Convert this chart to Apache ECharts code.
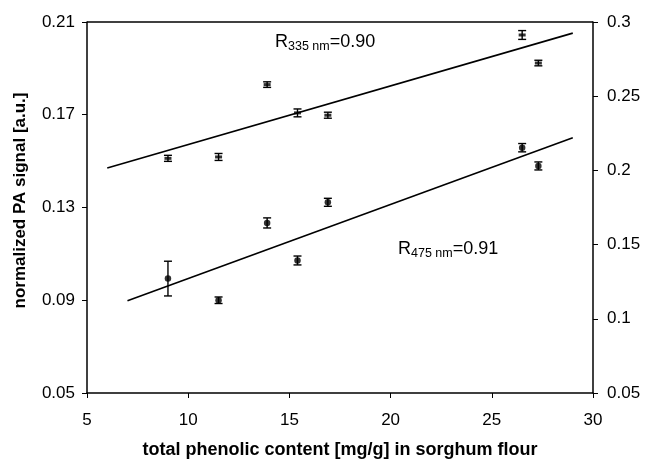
<!DOCTYPE html>
<html>
<head>
<meta charset="utf-8">
<script src="https://cdn.jsdelivr.net/npm/echarts@6/dist/echarts.min.js"></script>
<style>
  html, body { margin: 0; padding: 0; background: #fff; }
  #chart { width: 645px; height: 464px; }
</style>
</head>
<body>
<div id="chart"></div>
<script>
// phenolic content of the sorghum samples (mg/g)
const phenolic = [9.0, 11.5, 13.9, 15.4, 16.9, 26.5, 27.3];

// 335 nm signal (left axis) with error
const signal335 = [0.1512, 0.1518, 0.1830, 0.1708, 0.1698, 0.2044, 0.1923];
const err335 = [0.0013, 0.0015, 0.0012, 0.0017, 0.0013, 0.0019, 0.0012];

// 475 nm signal (right axis) with error
const signal475 = [0.1271, 0.1125, 0.1646, 0.1393, 0.1785, 0.2153, 0.2030];
const err475 = [0.0117, 0.0022, 0.0034, 0.0030, 0.0027, 0.0028, 0.0027];

// linear fits, two end points each
const fit335 = [[6, 0.1470], [29, 0.2052]];
const fit475 = [[7, 0.1121], [29, 0.2220]];

const xTicks = { min: 5, max: 30, interval: 5 };
const leftTicks = { min: 0.05, max: 0.21, interval: 0.04 };
const rightTicks = { min: 0.05, max: 0.3, interval: 0.05 };

const font = 'Liberation Sans, Arial, sans-serif';

const toPoints = (ys, errs) => phenolic.map((x, i) => [x, ys[i], errs[i]]);

// vertical error bar with caps
const errorBar = (params, api) => {
  const x = api.value(0), y = api.value(1), e = api.value(2);
  const top = api.coord([x, y + e]);
  const bot = api.coord([x, y - e]);
  const half = 4;
  const style = { stroke: '#000', lineWidth: 1.4 };
  return {
    type: 'group',
    children: [
      { type: 'line', shape: { x1: top[0], y1: top[1], x2: bot[0], y2: bot[1] }, style },
      { type: 'line', shape: { x1: top[0] - half, y1: top[1], x2: top[0] + half, y2: top[1] }, style },
      { type: 'line', shape: { x1: bot[0] - half, y1: bot[1], x2: bot[0] + half, y2: bot[1] }, style },
    ],
  };
};

const rLabel = {
  r: { fontSize: 18, fontFamily: font, fill: '#000' },
  s: { fontSize: 12.5, fontFamily: font, fill: '#000', padding: [9, 0, 0, 0] },
};

const chart = echarts.init(document.getElementById('chart'));

chart.setOption({
  animation: false,
  textStyle: { fontFamily: font },
  grid: { left: 87, right: 52, top: 22, bottom: 69 },
  xAxis: {
    type: 'value',
    ...xTicks,
    name: 'total phenolic content [mg/g] in sorghum flour',
    nameLocation: 'middle',
    nameGap: 48,
    nameTextStyle: { fontSize: 18, fontWeight: 'bold', color: '#000', fontFamily: font },
    axisLine: { onZero: false, lineStyle: { color: '#000', width: 1.5 } },
    axisTick: { show: true, length: 5, lineStyle: { color: '#000' } },
    axisLabel: { fontSize: 17, color: '#000', margin: 19, fontFamily: font },
    splitLine: { show: false },
  },
  yAxis: [
    {
      type: 'value',
      ...leftTicks,
      position: 'left',
      name: 'normalized PA signal [a.u.]',
      nameLocation: 'middle',
      nameGap: 58,
      nameTextStyle: { fontSize: 17, fontWeight: 'bold', color: '#000', fontFamily: font,
        padding: [0, 0, 0, 14] },
      axisLine: { show: true, lineStyle: { color: '#000', width: 1.5 } },
      axisTick: { show: true, length: 5, lineStyle: { color: '#000' } },
      axisLabel: { fontSize: 17, color: '#000', margin: 12, fontFamily: font,
        formatter: v => v.toFixed(2) },
      splitLine: { show: false },
    },
    {
      type: 'value',
      ...rightTicks,
      position: 'right',
      axisLine: { show: true, lineStyle: { color: '#000', width: 1.5 } },
      axisTick: { show: true, length: 5, lineStyle: { color: '#000' } },
      axisLabel: { fontSize: 17, color: '#000', margin: 14, fontFamily: font },
      splitLine: { show: false },
    },
  ],
  graphic: [
    // top frame line
    {
      type: 'line',
      shape: { x1: 87, y1: 22, x2: 593, y2: 22 },
      style: { stroke: '#000', lineWidth: 1.5 },
    },
    {
      type: 'text', left: 275, top: 33,
      style: { text: '{r|R}{s|335 nm}{r|=0.90}', rich: rLabel },
    },
    {
      type: 'text', left: 398, top: 240,
      style: { text: '{r|R}{s|475 nm}{r|=0.91}', rich: rLabel },
    },
  ],
  series: [
    {
      name: 'fit 335',
      type: 'line',
      data: fit335,
      yAxisIndex: 0,
      symbol: 'none',
      lineStyle: { color: '#000', width: 1.6 },
    },
    {
      name: 'fit 475',
      type: 'line',
      data: fit475,
      yAxisIndex: 1,
      symbol: 'none',
      lineStyle: { color: '#000', width: 1.6 },
    },
    {
      name: 'err 335',
      type: 'custom',
      yAxisIndex: 0,
      data: toPoints(signal335, err335),
      renderItem: errorBar,
      z: 3,
    },
    {
      name: 'err 475',
      type: 'custom',
      yAxisIndex: 1,
      data: toPoints(signal475, err475),
      renderItem: errorBar,
      z: 3,
    },
    {
      name: '335 nm',
      type: 'scatter',
      yAxisIndex: 0,
      data: toPoints(signal335, err335),
      symbol: 'rect',
      symbolSize: [7, 3],
      itemStyle: { color: '#000' },
      z: 4,
    },
    {
      name: '475 nm',
      type: 'scatter',
      yAxisIndex: 1,
      data: toPoints(signal475, err475),
      symbol: 'circle',
      symbolSize: 6.5,
      itemStyle: { color: '#000' },
      z: 4,
    },
  ],
});
</script>
</body>
</html>
